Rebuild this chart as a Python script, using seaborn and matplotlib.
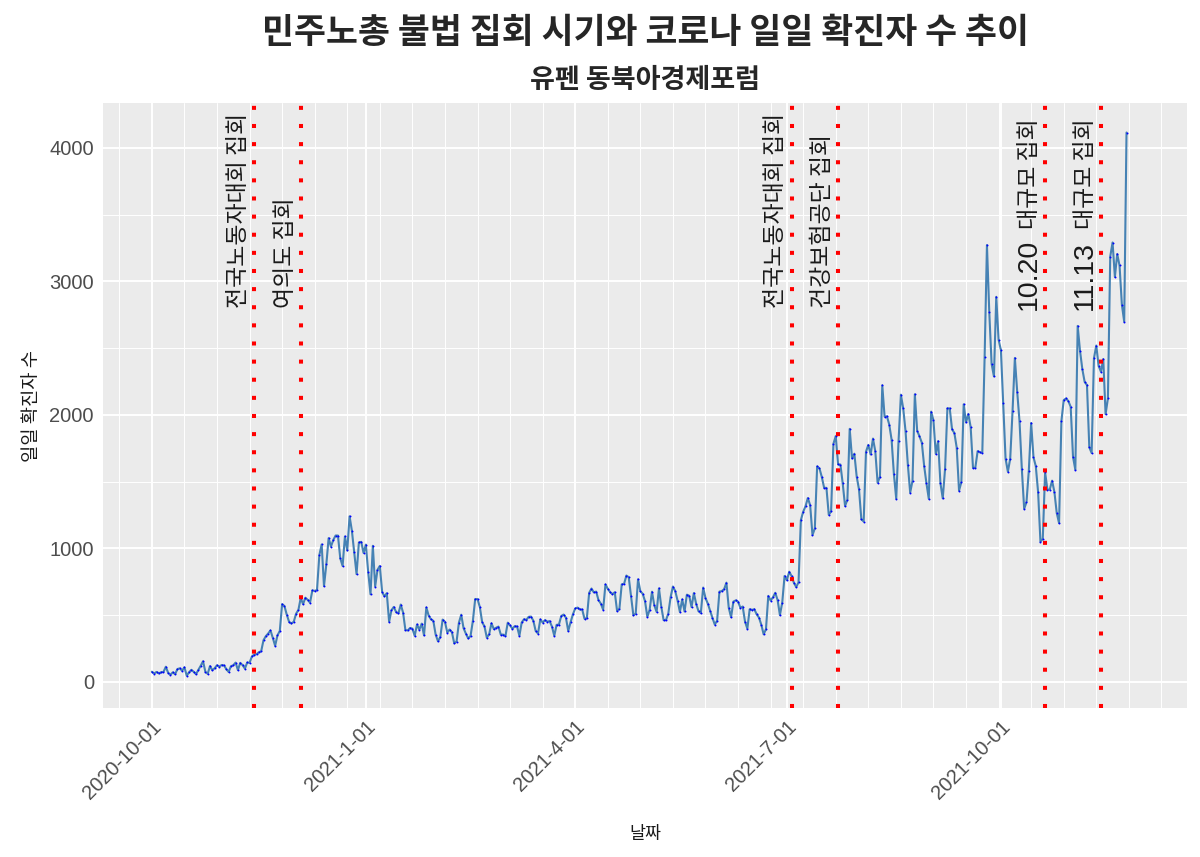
import matplotlib
matplotlib.use('Agg')
import pandas as pd
import matplotlib.pyplot as plt
import matplotlib.dates as mdates
from matplotlib.ticker import MultipleLocator, FixedLocator
import seaborn as sns

# daily confirmed cases, one list per month
oct_2020 = [77, 63, 75, 64, 73, 75, 114, 69, 54, 72, 58, 97, 102, 84, 110, 47, 73, 91, 76, 58,
            91, 121, 155, 77, 61, 119, 88, 103, 125, 114, 127]
nov_2020 = [124, 97, 75, 118, 125, 145, 89, 143, 126, 100, 146, 143, 191, 205, 208, 223, 230, 313, 343, 363,
            386, 330, 271, 349, 382, 583, 569, 504, 450, 438]
dec_2020 = [451, 511, 540, 629, 583, 631, 615, 594, 686, 682, 689, 950, 1030, 718, 880, 1078, 1014, 1064, 1097, 1097,
            926, 869, 1090, 985, 1241, 1132, 970, 808, 1045, 1050, 967]
jan_2021 = [1029, 824, 657, 1020, 715, 840, 869, 674, 641, 665, 451, 537, 562, 524, 513, 580, 520, 389, 386, 404,
            400, 346, 431, 392, 437, 349, 559, 497, 469, 458, 355]
feb_2021 = [305, 336, 467, 451, 370, 393, 372, 289, 303, 444, 504, 403, 362, 326, 344, 457, 621, 621, 561, 448,
            416, 332, 357, 440, 396, 406, 415, 355]
mar_2021 = [355, 344, 444, 424, 398, 418, 416, 346, 446, 470, 465, 488, 490, 459, 382, 363, 469, 445, 463, 452,
            456, 415, 346, 428, 430, 494, 505, 482, 382, 447, 506]
apr_2021 = [551, 557, 543, 543, 473, 478, 668, 700, 671, 677, 614, 587, 542, 731, 698, 673, 658, 672, 532, 549,
            731, 735, 797, 785, 644, 499, 512, 769, 680, 661]
may_2021 = [606, 488, 541, 676, 574, 525, 701, 564, 463, 463, 511, 635, 715, 681, 610, 525, 619, 528, 654, 646,
            561, 666, 585, 530, 516, 707, 629, 587, 533, 480, 430]
jun_2021 = [459, 677, 681, 695, 744, 556, 485, 602, 611, 602, 556, 565, 452, 399, 545, 540, 545, 507, 482, 429,
            357, 395, 645, 610, 634, 668, 614, 501, 595, 794]
jul_2021 = [762, 826, 794, 743, 711, 746, 1212, 1275, 1316, 1378, 1324, 1100, 1150, 1615, 1600, 1536, 1455, 1454, 1252, 1278,
            1784, 1842, 1630, 1629, 1487, 1318, 1365, 1896, 1674, 1710, 1539]
aug_2021 = [1442, 1219, 1202, 1725, 1776, 1704, 1823, 1729, 1492, 1537, 2223, 1987, 1990, 1928, 1816, 1556, 1372, 1805, 2152, 2050,
            1880, 1626, 1418, 1507, 2155, 1882, 1840, 1793, 1619, 1487, 1372]
sep_2021 = [2025, 1961, 1709, 1804, 1490, 1375, 1597, 2050, 2049, 1892, 1865, 1755, 1433, 1497, 2080, 1944, 2008, 1909, 1604, 1605,
            1729, 1720, 1716, 2434, 3273, 2771, 2383, 2289, 2885, 2564]
oct_2021 = [2486, 2086, 1673, 1575, 1672, 2028, 2427, 2175, 1953, 1594, 1297, 1347, 1584, 1940, 1684, 1616, 1420, 1050, 1073, 1571,
            1440, 1441, 1508, 1423, 1266, 1190, 1952, 2111, 2124, 2104, 2061]
nov_2021 = [1686, 1589, 2667, 2482, 2344, 2248, 2224, 1758, 1715, 2425, 2520, 2368, 2324, 2419, 2006, 2124, 3187, 3292, 3034, 3206,
            3120, 2827, 2699, 4116]

cases = (oct_2020 + nov_2020 + dec_2020 + jan_2021 + feb_2021 + mar_2021 + apr_2021
         + may_2021 + jun_2021 + jul_2021 + aug_2021 + sep_2021 + oct_2021 + nov_2021)

# rallies
rally_dates = ['2020-11-14', '2020-12-04', '2021-07-03', '2021-07-23']
rally_labels = ['전국노동자대회 집회', '여의도 집회', '전국노동자대회 집회', '건강보험공단 집회']
big_dates = ['2021-10-20', '2021-11-13']
big_nums = ['10.20', '11.13']
big_text = '대규모 집회'

x_breaks = ['2020-10-01', '2021-01-01', '2021-04-01', '2021-07-01', '2021-10-01']
x_labels = ['2020-10-01', '2021-1-01', '2021-4-01', '2021-7-01', '2021-10-01']

sns.set_theme(style='darkgrid', rc={'axes.facecolor': '#EBEBEB', 'grid.color': 'white'})
plt.rcParams['font.family'] = ['Noto Sans CJK KR', 'DejaVu Sans']

df = pd.DataFrame({'date': pd.date_range('2020-10-01', periods=len(cases), freq='D'),
                   'cases': cases})

fig = plt.figure(figsize=(12, 8.57), dpi=100)
ax = fig.add_axes([103 / 1200, 1 - 708 / 857, (1187 - 103) / 1200, (708 - 103) / 857])

sns.lineplot(data=df, x='date', y='cases', color='steelblue', lw=1.5, ax=ax, zorder=2)
sns.scatterplot(data=df, x='date', y='cases', color='blue', s=2, linewidth=0, ax=ax, zorder=3)

for d in rally_dates + big_dates:
    ax.axvline(pd.Timestamp(d), color='red', lw=2.9, linestyle=(0, (1, 3.5)), zorder=4)

for d, lab in zip(rally_dates, rally_labels):
    ax.annotate(lab, xy=(pd.Timestamp(d), 2800), xytext=(-3, 0), textcoords='offset points',
                rotation=90, ha='right', va='bottom', fontsize=16.5, color='#1a1a1a')

for d, num in zip(big_dates, big_nums):
    ax.annotate(num, xy=(pd.Timestamp(d), 2790), xytext=(-2, 0), textcoords='offset points',
                rotation=90, ha='right', va='bottom', fontsize=20.5, color='#1a1a1a',
                family='Liberation Sans')
    ax.annotate(big_text, xy=(pd.Timestamp(d), 3390), xytext=(-3, 0), textcoords='offset points',
                rotation=90, ha='right', va='bottom', fontsize=16.5, color='#1a1a1a')

ax.set_xlim(pd.Timestamp('2020-10-01') - pd.Timedelta(days=21),
            pd.Timestamp('2020-10-01') + pd.Timedelta(days=445))
ax.set_ylim(-195, 4337)

ax.set_xticks(pd.to_datetime(x_breaks))
ax.set_xticklabels(x_labels, rotation=45, ha='right', va='top', rotation_mode='anchor',
                   family='Liberation Sans')
ax.set_yticks([0, 1000, 2000, 3000, 4000])
ax.set_yticklabels(['0', '1000', '2000', '3000', '4000'], family='Liberation Sans')

minor_x = pd.date_range('2020-09-17', '2021-12-31', freq='14D')
ax.xaxis.set_minor_locator(FixedLocator(mdates.date2num(minor_x)))
ax.yaxis.set_minor_locator(MultipleLocator(500))
ax.grid(which='major', color='white', lw=1.4)
ax.grid(which='minor', color='white', lw=0.7)
ax.tick_params(which='major', length=3.5, width=0.9, color='#333333', labelsize=14.5,
               labelcolor='#4D4D4D', pad=3)
ax.tick_params(which='minor', length=0)
for s in ax.spines.values():
    s.set_visible(False)

ax.set_xlabel('날짜', fontsize=12.5, labelpad=16, color='#1a1a1a')
ax.set_ylabel('일일 확진자 수', fontsize=13.5, labelpad=5, color='#1a1a1a')

fig.text(645 / 1200, 1 - 33 / 857, '민주노총 불법 집회 시기와 코로나 일일 확진자 수 추이',
         ha='center', va='center', fontsize=25, fontweight='bold')
fig.text(645 / 1200, 1 - 80 / 857, '유펜 동북아경제포럼',
         ha='center', va='center', fontsize=19.5, fontweight='bold')

fig.savefig('out.png', dpi=100)
